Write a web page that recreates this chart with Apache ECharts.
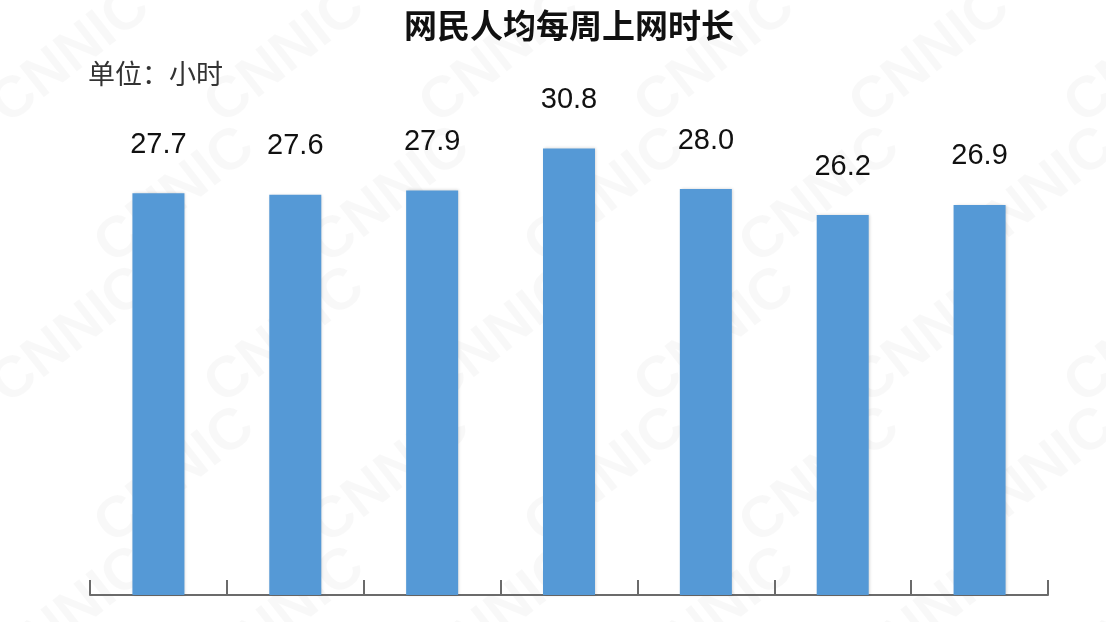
<!DOCTYPE html>
<html>
<head>
<meta charset="utf-8">
<script src="https://cdn.jsdelivr.net/npm/echarts@6/dist/echarts.min.js"></script>
<style>
html,body{margin:0;padding:0;background:#fff;}
#c{width:1106px;height:622px;}
</style>
</head>
<body>
<div id="c"></div>
<script>
// Data
const titleText = '网民人均每周上网时长';
const unitText = '单位：小时';
const categories = ['2018.6', '2018.12', '2019.6', '2020.3', '2020.6', '2020.12', '2021.6'];
const values = [27.7, 27.6, 27.9, 30.8, 28.0, 26.2, 26.9];
const watermarkText = 'CNNIC';

const chart = echarts.init(document.getElementById('c'), null, {renderer: 'canvas'});

// faint diagonal watermark lattice (decoration)
const wm = [];
for (let r = 0; r < 5; r++) {
  for (let c = 0; c < 6; c++) {
    wm.push({
      type: 'text',
      x: -20 + c * 215 + (r % 2) * 105,
      y: 90 + r * 140,
      rotation: Math.PI * 38 / 180,
      z: -10,
      silent: true,
      style: {
        text: watermarkText,
        fill: 'rgba(0,0,0,0.028)',
        font: 'bold 58px "Liberation Sans", Arial, sans-serif'
      }
    });
  }
}

chart.setOption({
  backgroundColor: '#ffffff',
  animation: false,
  title: {
    text: titleText,
    left: 564,
    textAlign: 'center',
    top: 4,
    textStyle: {
      fontFamily: '"Noto Sans CJK SC", sans-serif',
      fontSize: 33,
      fontWeight: 'bold',
      color: '#111'
    }
  },
  graphic: wm.concat([
    {
      type: 'text',
      left: 88,
      top: 60,
      silent: true,
      style: {
        text: unitText,
        fill: '#333',
        font: '27px "Noto Sans CJK SC", sans-serif'
      }
    }
  ]),
  grid: {left: 90, right: 58, top: 15, bottom: 27},
  xAxis: {
    type: 'category',
    data: categories,
    boundaryGap: true,
    axisLine: {show: true, lineStyle: {color: '#6b6b6b', width: 2}},
    axisTick: {show: true, inside: true, length: 15, alignWithLabel: false, lineStyle: {color: '#6b6b6b', width: 2}},
    axisLabel: {show: false}
  },
  yAxis: {
    type: 'value',
    min: 0,
    max: 40,
    show: false,
    splitLine: {show: false}
  },
  series: [{
    type: 'bar',
    data: values,
    barWidth: '38%',
    itemStyle: {
      color: '#5599d6',
      shadowColor: 'rgba(0,0,0,0.18)',
      shadowBlur: 3,
      shadowOffsetX: 1,
      shadowOffsetY: 0
    },
    label: {
      show: true,
      position: 'top',
      distance: 34,
      formatter: p => p.value.toFixed(1),
      fontFamily: '"Liberation Sans Narrow", "Liberation Sans", Arial, sans-serif',
      fontSize: 29,
      color: '#111'
    }
  }]
});
</script>
</body>
</html>
